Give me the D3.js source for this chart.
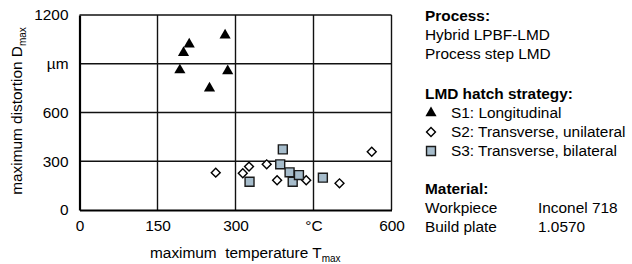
<!DOCTYPE html>
<html lang="en">
<head>
    <meta charset="UTF-8">
    <title>Maximum distortion vs maximum temperature</title>
    <script src="https://d3js.org/d3.v7.min.js"></script>
    <style>
        body {
            margin: 0;
            padding: 0;
            background-color: white;
            font-family: Arial, 'Liberation Sans', sans-serif;
        }
        svg text {
            fill: #000;
        }
    </style>
</head>
<body>
    <div id="chart"></div>
    <script>
        // S1: Longitudinal
        var s1Temp = [280, 211, 200, 193, 285, 250];
        var s1Dist = [1075, 1020, 968, 861, 855, 749];
        // S2: Transverse, unilateral
        var s2Temp = [262, 314, 326, 360, 380, 436, 500, 562];
        var s2Dist = [230, 226, 267, 281, 183, 183, 164, 359];
        // S3: Transverse, bilateral
        var s3Temp = [327, 391, 386, 404, 410, 422, 468];
        var s3Dist = [174, 373, 281, 232, 174, 215, 199];

        var xTicks = [0, 150, 300, 450, 600];
        var xTickLabels = ["0", "150", "300", "°C", "600"];
        var yTicks = [0, 300, 600, 900, 1200];
        var yTickLabels = ["0", "300", "600", "µm", "1200"];

        var fontSize = "15.4px";

        var svg = d3.select("#chart")
            .append("svg")
            .attr("width", 632)
            .attr("height", 264);

        var x = d3.scaleLinear().domain([0, 600]).range([79.5, 391.5]);
        var y = d3.scaleLinear().domain([0, 1200]).range([210, 15]);

        // grid lines
        svg.append("g")
            .selectAll("line")
            .data(xTicks.slice(1))
            .enter()
            .append("line")
            .attr("x1", function (d) { return x(d); })
            .attr("x2", function (d) { return x(d); })
            .attr("y1", y(0))
            .attr("y2", y(1200))
            .attr("stroke", "#111")
            .attr("stroke-width", 1.4);

        svg.append("g")
            .selectAll("line")
            .data(yTicks.slice(1))
            .enter()
            .append("line")
            .attr("x1", x(0))
            .attr("x2", x(600))
            .attr("y1", function (d) { return y(d); })
            .attr("y2", function (d) { return y(d); })
            .attr("stroke", "#111")
            .attr("stroke-width", 1.4);

        // axes
        var xAxis = svg.append("g")
            .attr("transform", "translate(0," + y(0) + ")")
            .call(d3.axisBottom(x).tickValues(xTicks).tickSize(0).tickPadding(10)
                .tickFormat(function (d, i) { return xTickLabels[i]; }));
        xAxis.select(".domain").attr("stroke", "#000").attr("stroke-width", 2.2);
        xAxis.selectAll("text").style("font-size", fontSize).style("font-family", "Arial, 'Liberation Sans', sans-serif");

        var yAxis = svg.append("g")
            .attr("transform", "translate(" + x(0) + ",0)")
            .call(d3.axisLeft(y).tickValues(yTicks).tickSize(0).tickPadding(11)
                .tickFormat(function (d, i) { return yTickLabels[i]; }));
        yAxis.select(".domain").attr("stroke", "#000").attr("stroke-width", 2.2);
        yAxis.selectAll("text").style("font-size", fontSize).style("font-family", "Arial, 'Liberation Sans', sans-serif");

        // axis titles
        var xTitle = svg.append("text")
            .attr("x", 150)
            .attr("y", 258)
            .attr("style", "font-size:" + fontSize + "; white-space:pre");
        xTitle.append("tspan").text("maximum  temperature T");
        xTitle.append("tspan").text("max").attr("dy", 4).style("font-size", "10px");

        var yTitle = svg.append("text")
            .attr("transform", "translate(22,111) rotate(-90)")
            .attr("text-anchor", "middle")
            .style("font-size", fontSize);
        yTitle.append("tspan").text("maximum distortion D");
        yTitle.append("tspan").text("max").attr("dy", 4).style("font-size", "10px");

        // markers
        var tri = d3.symbol().type(d3.symbolTriangle).size(54);
        var sq = d3.symbol().type(d3.symbolSquare).size(80);
        var dia = d3.symbol().type(d3.symbolSquare).size(40);

        var s1 = s1Temp.map(function (t, i) { return { t: t, d: s1Dist[i] }; });
        var s2 = s2Temp.map(function (t, i) { return { t: t, d: s2Dist[i] }; });
        var s3 = s3Temp.map(function (t, i) { return { t: t, d: s3Dist[i] }; });

        svg.append("g").selectAll("path")
            .data(s2)
            .enter()
            .append("path")
            .attr("d", dia)
            .attr("transform", function (d) { return "translate(" + x(d.t) + "," + y(d.d) + ") rotate(45)"; })
            .attr("fill", "white")
            .attr("stroke", "#000")
            .attr("stroke-width", 1.4);

        svg.append("g").selectAll("path")
            .data(s3)
            .enter()
            .append("path")
            .attr("d", sq)
            .attr("transform", function (d) { return "translate(" + x(d.t) + "," + y(d.d) + ")"; })
            .attr("fill", "#a6bccb")
            .attr("stroke", "#1a1a1a")
            .attr("stroke-width", 1.4);

        svg.append("g").selectAll("path")
            .data(s1)
            .enter()
            .append("path")
            .attr("d", tri)
            .attr("transform", function (d) { return "translate(" + x(d.t) + "," + y(d.d) + ")"; })
            .attr("fill", "#000");

        // legend / info text
        var info = svg.append("g").style("font-size", fontSize);
        info.append("text").attr("x", 425).attr("y", 21).style("font-weight", "bold").text("Process:");
        info.append("text").attr("x", 425).attr("y", 40).text("Hybrid LPBF-LMD");
        info.append("text").attr("x", 425).attr("y", 59).text("Process step LMD");
        info.append("text").attr("x", 425).attr("y", 99).style("font-weight", "bold").text("LMD hatch strategy:");

        info.append("path").attr("d", tri).attr("transform", "translate(431,113)").attr("fill", "#000");
        info.append("path").attr("d", dia).attr("transform", "translate(431,132) rotate(45)")
            .attr("fill", "white").attr("stroke", "#000").attr("stroke-width", 1.4);
        info.append("path").attr("d", sq).attr("transform", "translate(431,151)")
            .attr("fill", "#a6bccb").attr("stroke", "#1a1a1a").attr("stroke-width", 1.4);
        info.append("text").attr("x", 451).attr("y", 118).text("S1: Longitudinal");
        info.append("text").attr("x", 451).attr("y", 137).text("S2: Transverse, unilateral");
        info.append("text").attr("x", 451).attr("y", 156).text("S3: Transverse, bilateral");

        info.append("text").attr("x", 425).attr("y", 194).style("font-weight", "bold").text("Material:");
        info.append("text").attr("x", 425).attr("y", 213).text("Workpiece");
        info.append("text").attr("x", 538).attr("y", 213).text("Inconel 718");
        info.append("text").attr("x", 425).attr("y", 232).text("Build plate");
        info.append("text").attr("x", 538).attr("y", 232).text("1.0570");
    </script>
</body>
</html>
